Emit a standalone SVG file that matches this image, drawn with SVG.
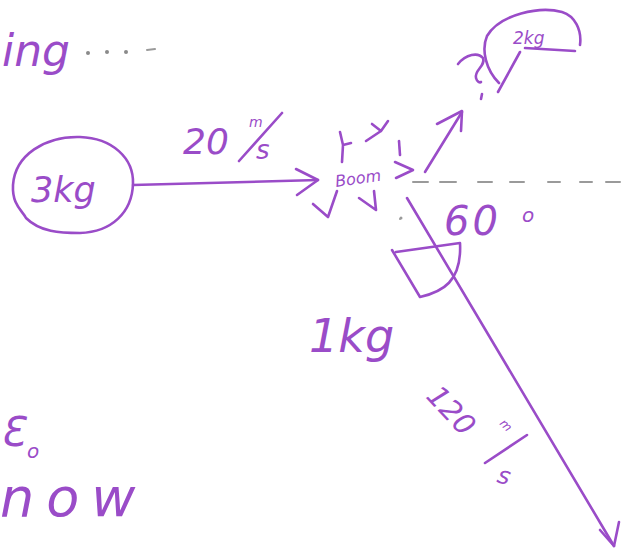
<svg xmlns="http://www.w3.org/2000/svg" width="626" height="554" viewBox="0 0 626 554">
<style>
.ink{fill:none;stroke:#9a4cc8;stroke-width:2.6;stroke-linecap:round;stroke-linejoin:round}
.hw{fill:#9a4cc8;font-family:"DejaVu Sans","Liberation Sans",sans-serif;font-style:oblique}
.gray{fill:none;stroke:#9a9a9a;stroke-width:2;stroke-linecap:round}
</style>
<rect width="626" height="554" fill="#ffffff"/>
<!-- top-left fragment -->
<g id="frag-ing">
<text class="hw" x="2" y="66" font-size="44">ing</text>
<g fill="#8a8a8a"><circle cx="88" cy="53" r="2"/><circle cx="107" cy="52" r="2"/><circle cx="126" cy="52" r="2"/></g>
<path class="gray" d="M147,50 L155,49" stroke-width="1"/>
</g>
<!-- 3kg body -->
<g id="node-3kg">
<path class="ink" d="M133,184 C134,158 112,138 80,137 C45,136 15,155 13,185 C12,205 22,210 26,218 C40,232 60,233 80,233 C112,232 132,212 133,184 Z"/>
<text class="hw" x="31" y="202" font-size="35">3kg</text>
</g>
<!-- connectors -->
<g id="connectors">
<path class="ink" d="M133,185 L318,180"/>
<path class="ink" d="M296,169 L318,180 L297,195"/>
<path class="ink" d="M425,172 L462,112"/>
<path class="ink" d="M437,124 L462,111 L461,131"/>
<path class="ink" d="M407,198 L614,546"/>
<path class="ink" d="M600,530 L614,546 L619,522"/>
<path class="gray" d="M413,182 L428,182 M440,182 L456,182 M478,182 L492,182 M510,182 L524,182 M548,182 L560,182 M580,182 L592,182 M606,182 L620,182"/>
</g>
<!-- velocity label 20 m/s -->
<g id="label-20ms">
<text class="hw" x="183" y="154" font-size="36">20</text>
<path class="ink" d="M239,161 L282,113"/>
<text class="hw" x="249" y="127" font-size="14">m</text>
<text class="hw" x="256" y="159" font-size="26">s</text>
</g>
<!-- explosion -->
<g id="node-boom">
<text class="hw" x="336" y="187" font-size="16" transform="rotate(-8 336 187)">Boom</text>
<path class="ink" d="M340,132 L343,145 L351,143 M343,145 L342,162" stroke-width="2"/>
<path class="ink" d="M366,141 L381,131 L388,121 M381,131 L372,124" stroke-width="2"/>
<path class="ink" d="M399,141 L400,155" stroke-width="2"/>
<path class="ink" d="M395,162 L413,170 L396,178" stroke-width="2"/>
<path class="ink" d="M359,198 L376,210 L374,191" stroke-width="2"/>
<path class="ink" d="M313,204 L328,217 L337,191" stroke-width="2"/>
<circle cx="401" cy="218" r="1.5" fill="#9a9a9a"/>
</g>
<!-- 2kg fragment -->
<g id="node-2kg">
<path class="ink" d="M499,83 C486,70 481,50 487,36 C500,14 540,6 562,12 C575,16 582,30 580,45"/>
<path class="ink" d="M525,48 L575,51"/>
<text class="hw" x="513" y="44" font-size="17">2kg</text>
<path class="ink" d="M520,52 L498,92"/>
<path class="ink" d="M458,64 C466,54 478,52 483,58 C486,66 474,70 476,78 C477,82 480,83 481,82"/>
<path class="ink" d="M482,94 L481,99" stroke-width="2"/>
</g>
<!-- angle marker and label -->
<g id="angle-60">
<path class="ink" d="M392,250 L420,297 C442,292 462,282 460,243 L396,252"/>
<text class="hw" x="444" y="235" font-size="40" letter-spacing="3">60</text>
<text class="hw" x="522" y="222" font-size="20">o</text>
<circle cx="400" cy="219" r="1" fill="#9a9a9a"/>
</g>
<!-- 1kg fragment -->
<g id="node-1kg">
<text class="hw" x="309" y="352" font-size="46">1kg</text>
</g>
<!-- velocity label 120 m/s -->
<g id="label-120ms">
<text class="hw" font-size="29" transform="translate(425,397) rotate(47)">120</text>
<path class="ink" d="M485,463 L527,435"/>
<text class="hw" font-size="12" transform="translate(499,424) rotate(45)">m</text>
<text class="hw" font-size="24" transform="translate(496,482) rotate(15)">s</text>
</g>
<!-- bottom-left fragments -->
<g id="frag-eo">
<text class="hw" x="0" y="446" font-size="40">Ɛ</text>
<text class="hw" x="27" y="458" font-size="20">o</text>
</g>
<g id="frag-now">
<text class="hw" x="0" y="516" font-size="54" letter-spacing="12">now</text>
</g>
</svg>
